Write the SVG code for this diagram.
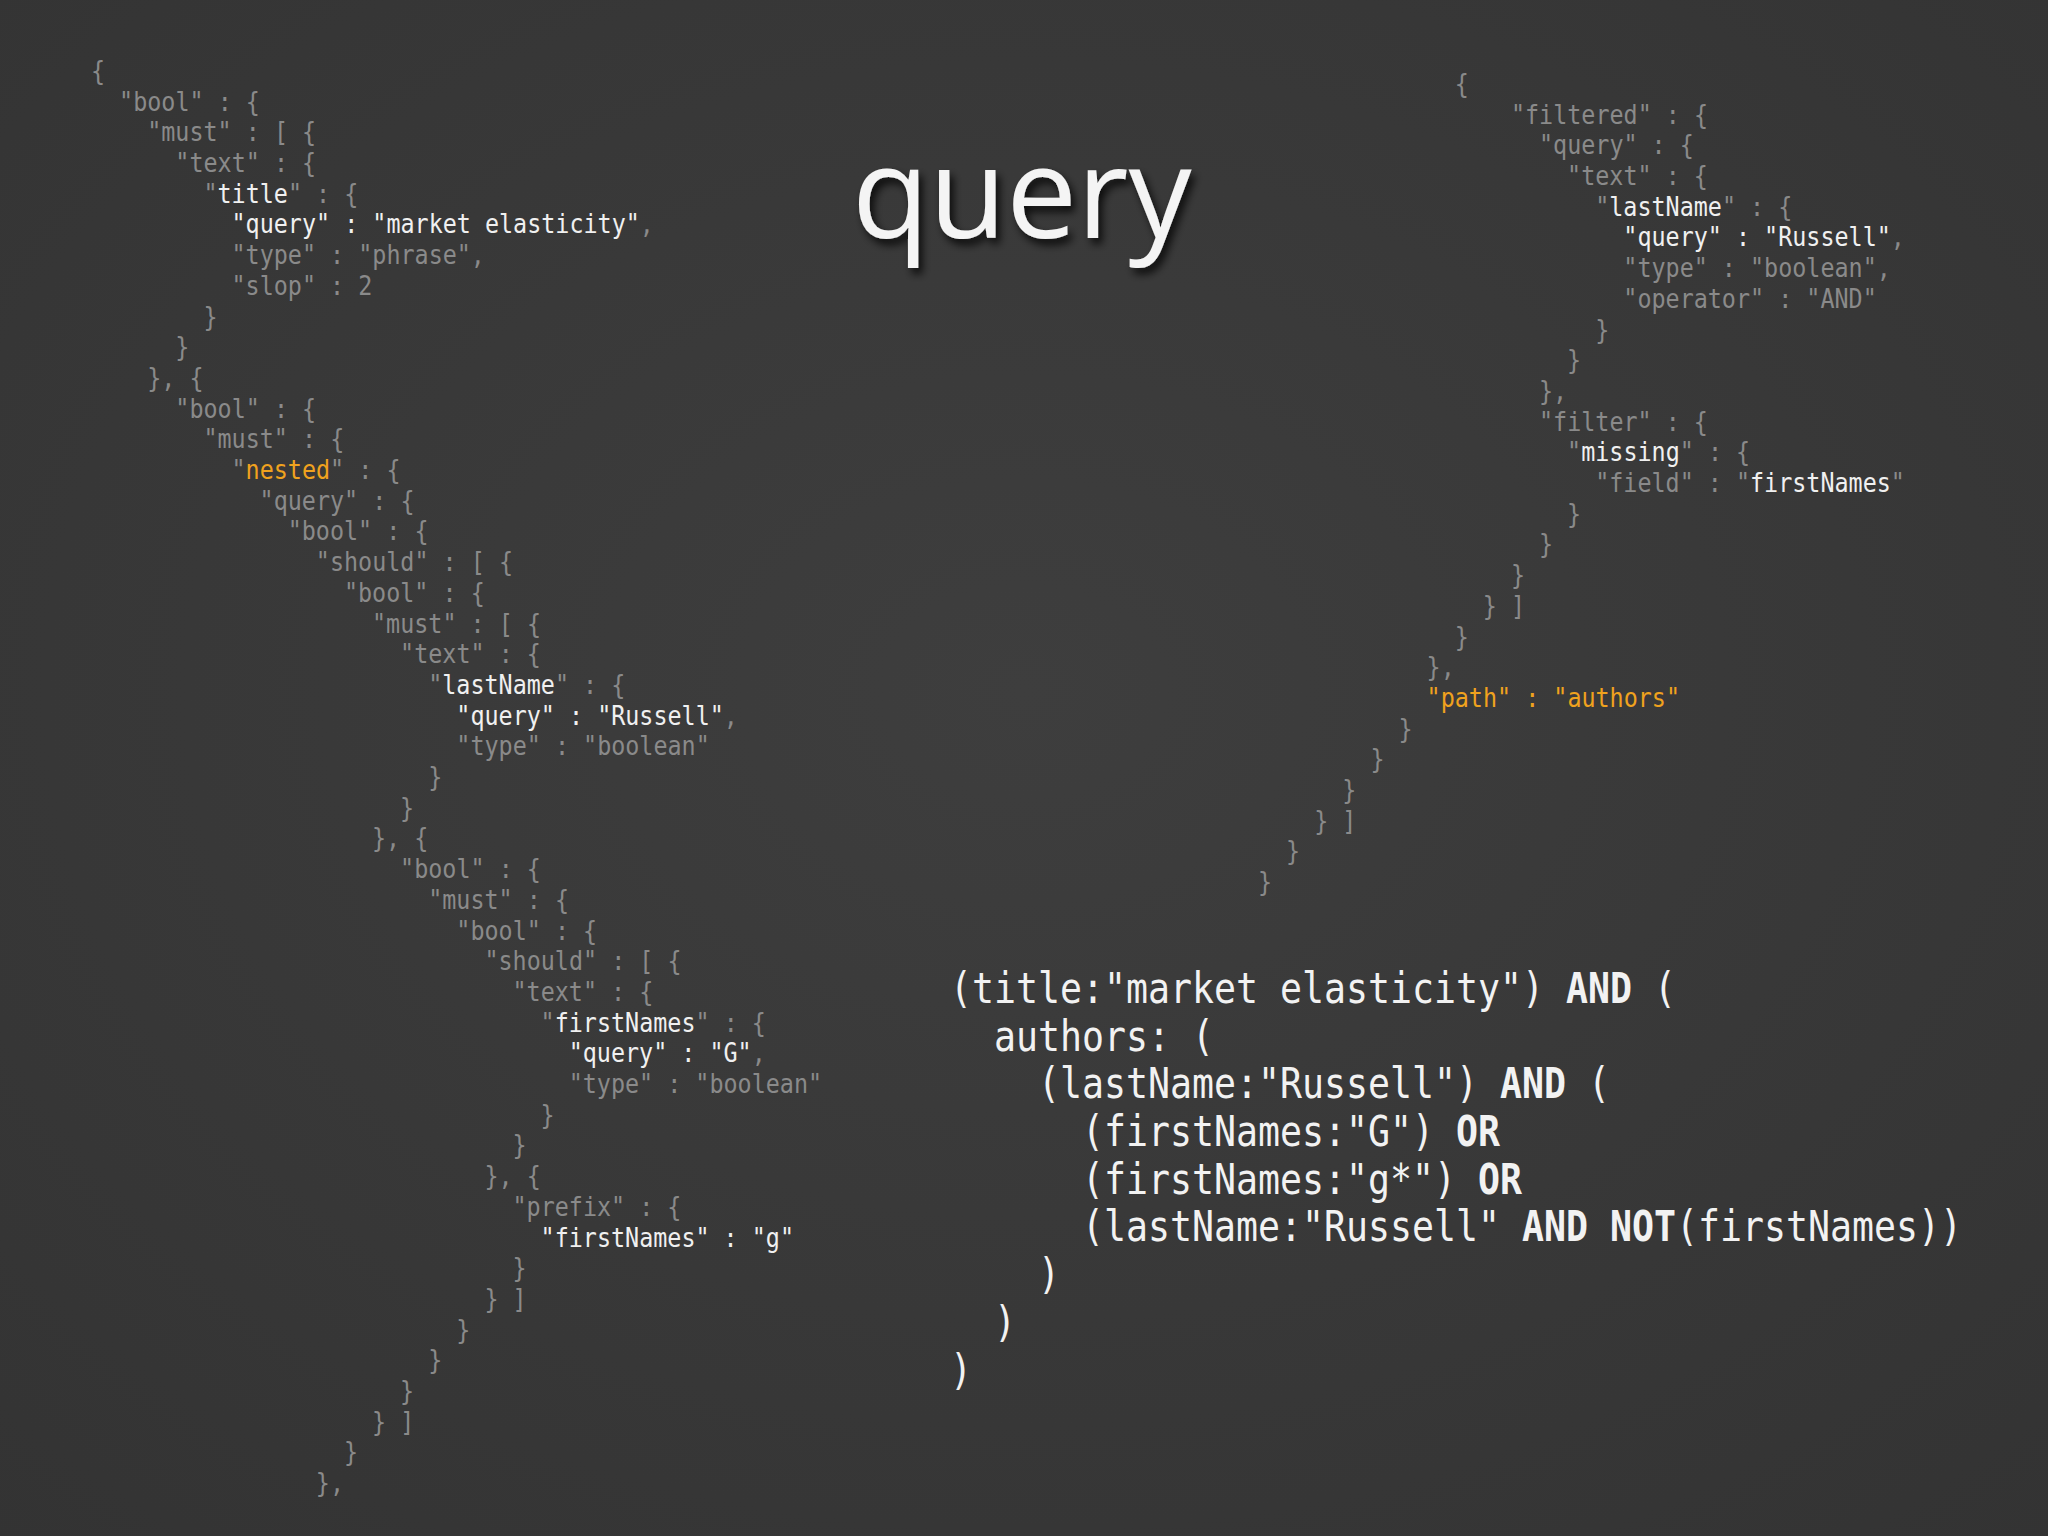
<svg xmlns="http://www.w3.org/2000/svg" width="2048" height="1536" viewBox="0 0 2048 1536">
<defs>
<radialGradient id="bg" cx="50%" cy="45%" r="75%">
<stop offset="0" stop-color="#3e3e3e"/><stop offset="1" stop-color="#333333"/>
</radialGradient>
<filter id="sh" x="-10%" y="-10%" width="130%" height="140%"><feDropShadow dx="4" dy="6" stdDeviation="4" flood-color="#000" flood-opacity="0.8"/></filter>
<style>
.j{font-family:"DejaVu Sans Mono","Liberation Mono",monospace;font-size:26px;fill:#8a8a8a}
.b{font-family:"DejaVu Sans Mono","Liberation Mono",monospace;font-size:42px;fill:#f2f2f2}
.w{fill:#f0f0f0}
.o{fill:#f0a21e}
.k{font-weight:bold}
</style>
</defs>
<rect width="2048" height="1536" fill="url(#bg)"/>
<g id="title"><text x="852" y="238" font-family="Open Sans, Noto Sans, sans-serif" font-size="126" fill="#f4f4f4" filter="url(#sh)">query</text></g>
<g id="left-json" transform="translate(5 0) scale(0.9 1)" class="j">
<text x="95.6" y="80">{</text>
<text x="126.8" y="110.7">"bool" : {</text>
<text x="158.0" y="141.4">"must" : [ {</text>
<text x="189.3" y="172.1">"text" : {</text>
<text x="220.5" y="202.8">"<tspan class="w">title</tspan>" : {</text>
<text x="251.7" y="233.5"><tspan class="w">"query" : "market elasticity"</tspan>,</text>
<text x="251.7" y="264.2">"type" : "phrase",</text>
<text x="251.7" y="294.9">"slop" : 2</text>
<text x="220.5" y="325.6">}</text>
<text x="189.3" y="356.3">}</text>
<text x="158.0" y="387.0">}, {</text>
<text x="189.3" y="417.7">"bool" : {</text>
<text x="220.5" y="448.4">"must" : {</text>
<text x="251.7" y="479.1">"<tspan class="o">nested</tspan>" : {</text>
<text x="282.9" y="509.8">"query" : {</text>
<text x="314.1" y="540.5">"bool" : {</text>
<text x="345.4" y="571.2">"should" : [ {</text>
<text x="376.6" y="601.9">"bool" : {</text>
<text x="407.8" y="632.6">"must" : [ {</text>
<text x="439.0" y="663.3">"text" : {</text>
<text x="470.2" y="694.0">"<tspan class="w">lastName</tspan>" : {</text>
<text x="501.5" y="724.7"><tspan class="w">"query" : "Russell"</tspan>,</text>
<text x="501.5" y="755.4">"type" : "boolean"</text>
<text x="470.2" y="786.1">}</text>
<text x="439.0" y="816.8">}</text>
<text x="407.8" y="847.5">}, {</text>
<text x="439.0" y="878.2">"bool" : {</text>
<text x="470.2" y="908.9">"must" : {</text>
<text x="501.5" y="939.6">"bool" : {</text>
<text x="532.7" y="970.3">"should" : [ {</text>
<text x="563.9" y="1001.0">"text" : {</text>
<text x="595.1" y="1031.7">"<tspan class="w">firstNames</tspan>" : {</text>
<text x="626.3" y="1062.4"><tspan class="w">"query" : "G"</tspan>,</text>
<text x="626.3" y="1093.1">"type" : "boolean"</text>
<text x="595.1" y="1123.8">}</text>
<text x="563.9" y="1154.5">}</text>
<text x="532.7" y="1185.2">}, {</text>
<text x="563.9" y="1215.9">"prefix" : {</text>
<text x="595.1" y="1246.6"><tspan class="w">"firstNames" : "g"</tspan></text>
<text x="563.9" y="1277.3">}</text>
<text x="532.7" y="1308.0">} ]</text>
<text x="501.5" y="1338.7">}</text>
<text x="470.2" y="1369.4">}</text>
<text x="439.0" y="1400.1">}</text>
<text x="407.8" y="1430.8">} ]</text>
<text x="376.6" y="1461.5">}</text>
<text x="345.4" y="1492.2">},</text>
</g>
<g id="right-json" transform="scale(0.9 1)" class="j">
<text x="1616.3" y="93">{</text>
<text x="1678.8" y="123.7">"filtered" : {</text>
<text x="1710.0" y="154.4">"query" : {</text>
<text x="1741.2" y="185.1">"text" : {</text>
<text x="1772.4" y="215.8">"<tspan class="w">lastName</tspan>" : {</text>
<text x="1803.7" y="246.5"><tspan class="w">"query" : "Russell"</tspan>,</text>
<text x="1803.7" y="277.2">"type" : "boolean",</text>
<text x="1803.7" y="307.9">"operator" : "AND"</text>
<text x="1772.4" y="338.6">}</text>
<text x="1741.2" y="369.3">}</text>
<text x="1710.0" y="400.0">},</text>
<text x="1710.0" y="430.7">"filter" : {</text>
<text x="1741.2" y="461.4">"<tspan class="w">missing</tspan>" : {</text>
<text x="1772.4" y="492.1">"field" : "<tspan class="w">firstNames</tspan>"</text>
<text x="1741.2" y="522.8">}</text>
<text x="1710.0" y="553.5">}</text>
<text x="1678.8" y="584.2">}</text>
<text x="1647.5" y="614.9">} ]</text>
<text x="1616.3" y="645.6">}</text>
<text x="1585.1" y="676.3">},</text>
<text x="1585.1" y="707.0" class="o">"path" : "authors"</text>
<text x="1553.9" y="737.7">}</text>
<text x="1522.7" y="768.4">}</text>
<text x="1491.5" y="799.1">}</text>
<text x="1460.2" y="829.8">} ]</text>
<text x="1429.0" y="860.5">}</text>
<text x="1397.8" y="891.2">}</text>
</g>
<g id="query-string" transform="scale(0.87 1)" class="b">
<text x="1092.0" y="1003">(title:"market elasticity") <tspan class="k">AND</tspan> (</text>
<text x="1142.6" y="1050.7">authors: (</text>
<text x="1193.1" y="1098.4">(lastName:"Russell") <tspan class="k">AND</tspan> (</text>
<text x="1243.7" y="1146.1">(firstNames:"G") <tspan class="k">OR</tspan></text>
<text x="1243.7" y="1193.8">(firstNames:"g*") <tspan class="k">OR</tspan></text>
<text x="1243.7" y="1241.5">(lastName:"Russell" <tspan class="k">AND</tspan> <tspan class="k">NOT</tspan>(firstNames))</text>
<text x="1193.1" y="1289.2">)</text>
<text x="1142.6" y="1336.9">)</text>
<text x="1092.0" y="1384.6">)</text>
</g>
</svg>
